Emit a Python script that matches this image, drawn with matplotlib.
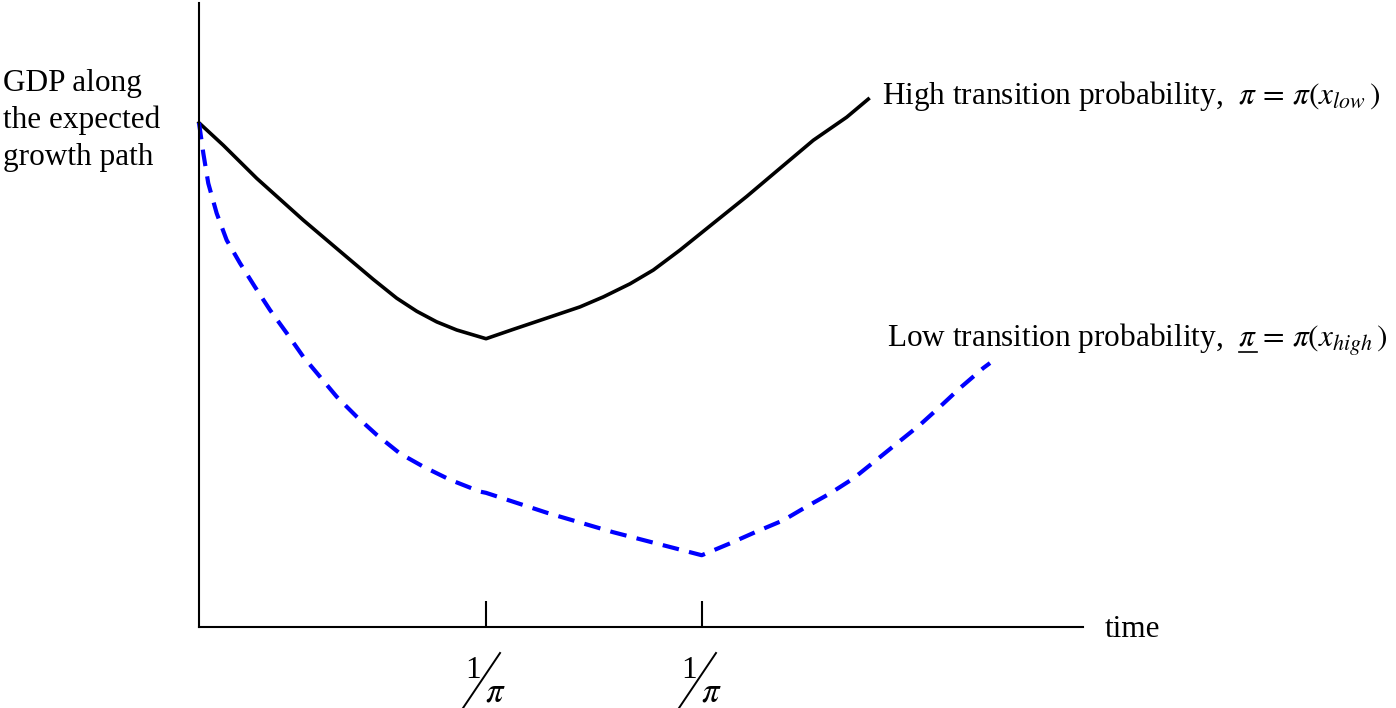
import matplotlib
matplotlib.use("Agg")
import matplotlib.pyplot as plt
from matplotlib.lines import Line2D

# values (time and GDP on a 0-10 scale)
high_t = [0.0, 0.275, 0.653, 1.180, 1.671, 1.972, 2.236, 2.463, 2.689, 2.915, 3.247,
          3.555, 3.933, 4.310, 4.574, 4.876, 5.139, 5.441, 5.818, 6.196, 6.572,
          6.949, 7.327, 7.571]
high_gdp = [8.08, 7.72, 7.19, 6.52, 5.93, 5.57, 5.27, 5.06, 4.89, 4.76, 4.62,
            4.77, 4.95, 5.13, 5.29, 5.50, 5.72, 6.04, 6.47, 6.90, 7.35,
            7.80, 8.17, 8.46]

low_t = [0.0, 0.049, 0.105, 0.200, 0.313, 0.464, 0.633, 0.803, 0.992, 1.180,
         1.369, 1.558, 1.784, 2.010, 2.274, 2.537, 2.839, 3.179, 3.247,
         3.937, 4.683, 5.687, 6.007, 6.309, 6.610, 6.874, 7.138, 7.402,
         7.666, 7.893, 8.156, 8.382, 8.609, 8.872, 8.948]
low_gdp = [8.08, 7.59, 7.11, 6.63, 6.20, 5.83, 5.45, 5.08, 4.71, 4.33,
           4.01, 3.69, 3.37, 3.08, 2.78, 2.57, 2.36, 2.17, 2.15,
           1.83, 1.52, 1.15, 1.34, 1.53, 1.71, 1.93, 2.14, 2.38,
           2.68, 2.94, 3.24, 3.53, 3.83, 4.15, 4.23]

tick_t = [3.247, 5.690]

high_label = "High transition probability,  "
low_label = "Low transition probability,  "

plt.rcParams['font.family'] = ['Liberation Serif', 'DejaVu Serif']
plt.rcParams['mathtext.fontset'] = 'stix'
plt.rcParams['lines.scale_dashes'] = False
FS = 22.5

W, H = 1396, 708
fig = plt.figure(figsize=(W / 100, H / 100), dpi=100)
ax = fig.add_axes([199 / W, 1 - 627 / H, (1083 - 199) / W, (627 - 3) / H])
ax.set_xlim(0, 10)
ax.set_ylim(0, 10)

ax.plot(high_t, high_gdp, color='black', lw=2.6, solid_joinstyle='round', clip_on=False)
ax.plot(low_t, low_gdp, color='#0000ff', lw=3.0, dashes=(12, 7.5), clip_on=False)

for s in ['top', 'right']:
    ax.spines[s].set_visible(False)
for s in ['left', 'bottom']:
    ax.spines[s].set_linewidth(1.5)
ax.set_yticks([])
ax.set_xticks(tick_t)
ax.set_xticklabels([])
ax.tick_params(axis='x', direction='in', length=19, width=1.5)


def px(x, y):
    return x / W, 1 - y / H


# slashed fractions 1/pi under the ticks
for t in tick_t:
    ax.annotate("1", xy=(t, 0), xycoords=('data', 'axes fraction'),
                xytext=(-9.5, -36.5), textcoords='offset points',
                ha='center', va='baseline', fontsize=FS)
    ax.annotate(r"$\pi$", xy=(t, 0), xycoords=('data', 'axes fraction'),
                xytext=(7, -53.5), textcoords='offset points',
                ha='center', va='baseline', fontsize=25)
    # the fraction slash, in pixels relative to the tick
    xt, yt = ax.transData.transform((t, 0))
    fig.add_artist(Line2D([(xt - 23) / W, (xt + 14) / W],
                          [(yt - 81) / H, (yt - 26) / H],
                          transform=fig.transFigure, color='black', lw=1.4))

fig.text(*px(1105, 637), "time", fontsize=FS, ha='left', va='baseline')
fig.text(*px(3, 165), "GDP along\nthe expected\ngrowth path", fontsize=FS,
         ha='left', va='baseline', linespacing=1.35)

fig.text(*px(882, 104), high_label + r"$\pi\,=\,\pi(x_{low}\,)$", fontsize=FS,
         ha='left', va='baseline')
lx, ly = px(887, 348)
fig.text(lx, ly, low_label + r"$\pi\,=\,\pi(x_{high}\,)$", fontsize=FS,
         ha='left', va='baseline')

# underline the pi of the low-probability label
fig.canvas.draw()
r = fig.canvas.get_renderer()
tmp = fig.text(lx, ly, low_label + r"$\pi$", fontsize=FS, ha='left', va='baseline')
x1 = tmp.get_window_extent(r).x1
tmp.remove()
tmp = fig.text(lx, ly, r"$\pi$", fontsize=FS, ha='left', va='baseline')
pw = tmp.get_window_extent(r).width
tmp.remove()
uy = fig.bbox.height - (348 + 4)
fig.add_artist(Line2D([(x1 - pw) / W, x1 / W], [uy / H, uy / H],
                      transform=fig.transFigure, color='black', lw=1.2))

fig.savefig("out.png", dpi=100)
